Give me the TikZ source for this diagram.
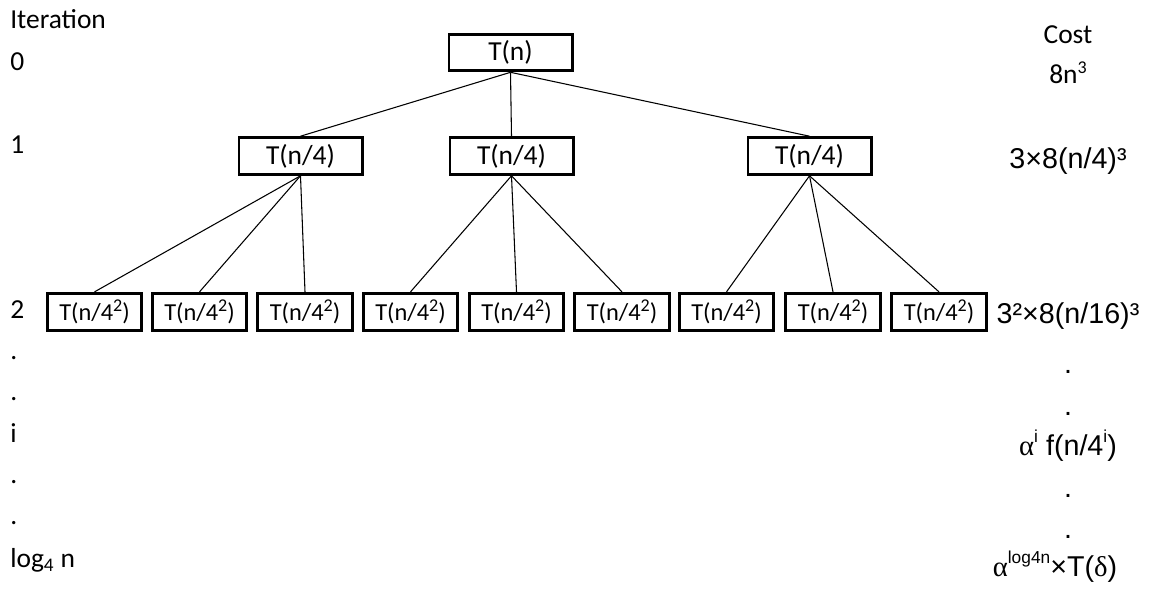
\documentclass[tikz,border=0pt]{standalone}
\usepackage{fontspec}
\setmainfont{Carlito}
\newfontfamily\arialf{Liberation Sans}
\newfontfamily\greekf{Liberation Serif}
\newcommand{\mysup}[1]{\raisebox{0.8ex}{\fontsize{13}{13}\selectfont #1}}
\newcommand{\csup}[1]{\raisebox{0.75ex}{\fontsize{13.5}{13}\selectfont #1}}
\begin{document}
\begin{tikzpicture}[x=0.75pt,y=-0.75pt,
  box/.style={draw,line width=2.2pt,inner sep=0pt,font=\fontsize{20.6}{24}\selectfont},
  bigbox/.style={box,minimum width=92.3pt,minimum height=27.5pt},
  smallbox/.style={box,minimum width=71pt,minimum height=28pt,font=\fontsize{18.3}{22}\selectfont},
  lab/.style={inner sep=0pt,anchor=base west,font=\fontsize{20.6}{24}\selectfont},
  cost/.style={inner sep=0pt,anchor=base,font=\arialf\fontsize{21.5}{24}\selectfont},
  costc/.style={inner sep=0pt,anchor=base,font=\fontsize{20.6}{24}\selectfont},
  edge/.style={line width=0.8pt}]
\useasboundingbox (0,0) rectangle (1149,590);
% tree
\node[bigbox] (r) at (510.5,52.5) {T(n)};
\node[bigbox] (a1) at (300.5,156) {T(n/4)};
\node[bigbox] (a2) at (511.5,156) {T(n/4)};
\node[bigbox] (a3) at (809.5,156) {T(n/4)};
\foreach \i/\x in {1/94.5,2/199.5,3/305,4/410.5,5/516.5,6/622,7/726.5,8/833,9/939}
  \node[smallbox] (b\i) at (\x,312) {T(n/4\csup{2})};
\foreach \c in {a1,a2,a3} \draw[edge] (r.south) -- (\c.north);
\foreach \c in {b1,b2,b3} \draw[edge] (a1.south) -- (\c.north);
\foreach \c in {b4,b5,b6} \draw[edge] (a2.south) -- (\c.north);
\foreach \c in {b7,b8,b9} \draw[edge] (a3.south) -- (\c.north);
% iteration column
\node[lab] (it) at (10,28) {Iteration};
\node[lab] (l0) at (10,70) {0};
\node[lab] (l1) at (10,153) {1};
\node[lab] (l2) at (10,318) {2};
\node[lab] (d1) at (10,359) {.};
\node[lab] (d2) at (10,400) {.};
\node[lab] (li) at (10,442) {i};
\node[lab] (d3) at (10,483) {.};
\node[lab] (d4) at (10,524) {.};
\node[lab] (ll) at (10,567) {log\textsubscript{4} n};
% cost column
\node[costc] (c) at (1068,43) {Cost};
\node[costc] (c0) at (1068,83) {8n\csup{3}};
\node[cost] (c1) at (1068,168) {3×8(n/4)³};
\node[cost] (c2) at (1068,323) {3²×8(n/16)³};
\node[cost] (e1) at (1068,373) {.};
\node[cost] (e2) at (1068,415) {.};
\node[cost] (ci) at (1068,455) {{\greekf α}\mysup{i} f(n/4\mysup{i})};
\node[cost] (e3) at (1068,497) {.};
\node[cost] (e4) at (1068,538) {.};
\node[cost] (cl) at (1055,576) {{\greekf α}\mysup{log4n}×T({\greekf δ})};
\end{tikzpicture}
\end{document}
